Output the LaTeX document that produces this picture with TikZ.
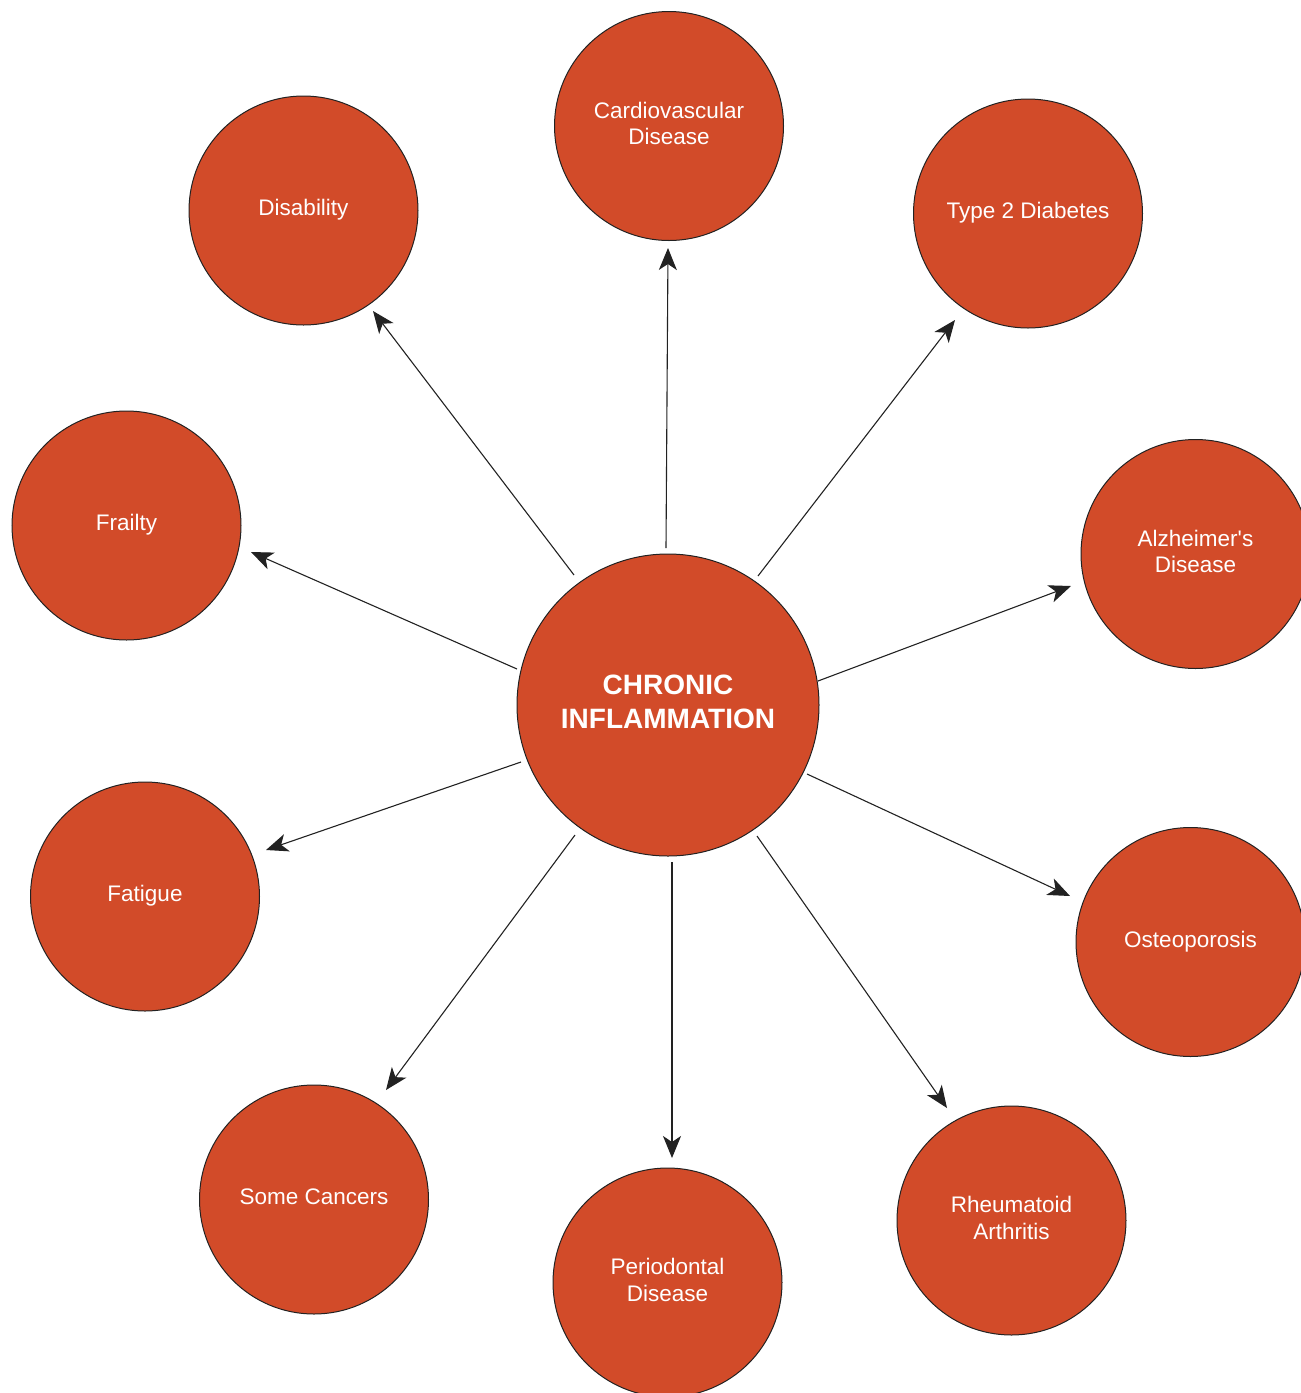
\documentclass[tikz,border=0pt]{standalone}
\usepackage{fontspec}
\setmainfont{Liberation Sans}
\usetikzlibrary{arrows.meta,calc}
\definecolor{infl}{RGB}{210,75,41}
\definecolor{edge}{RGB}{34,34,34}
\newcommand\lbl[2][3pt]{\raisebox{#1}{\begin{tabular}{@{}c@{}}#2\end{tabular}}}
\tikzset{
  disease/.style={circle,draw=edge,line width=1pt,fill=infl,minimum size=229pt,inner sep=0pt,
    text=white,font=\fontsize{22.5}{26.5}\selectfont},
  hub/.style={circle,draw=edge,line width=1pt,fill=infl,minimum size=302pt,inner sep=0pt,
    text=white,font=\fontsize{28}{34}\selectfont\bfseries},
  arr/.style={draw=edge,line width=1.1pt,-{Stealth[length=22pt,width=18pt,inset=6pt]}}
}
\begin{document}
\begin{tikzpicture}[x=1pt,y=-1pt]
\useasboundingbox (0,0) rectangle (1301,1393);
\clip (0,0) rectangle (1301,1393);
\node[hub] (c) at (668,705) {\lbl[4pt]{CHRONIC\\INFLAMMATION}};
\node[disease] (cardio) at (669,126) {\lbl{Cardiovascular\\Disease}};
\node[disease] (disab) at (303.5,210.5) {\lbl{Disability}};
\node[disease] (t2d) at (1028,213.5) {\lbl{Type 2 Diabetes}};
\node[disease] (frail) at (126.5,525.5) {\lbl{Frailty}};
\node[disease] (alz) at (1195.5,554) {\lbl{Alzheimer\textquotesingle s\\Disease}};
\node[disease] (fat) at (145,896.5) {\lbl{Fatigue}};
\node[disease] (osteo) at (1190.5,942) {\lbl{Osteoporosis}};
\node[disease] (canc) at (314,1199.5) {\lbl{Some Cancers}};
\node[disease] (perio) at (667.5,1282.5) {\lbl{Periodontal\\Disease}};
\node[disease] (rheum) at (1011.5,1220.5) {\lbl{Rheumatoid\\Arthritis}};
\draw[arr] ($(c)+(-2,-157)$) -- ($(cardio)+(-1,122)$);
\draw[arr] ($(c)+(-94,-130)$) -- ($(disab)+(69.5,100.5)$);
\draw[arr] ($(c)+(90,-129)$) -- ($(t2d)+(-73,106.5)$);
\draw[arr] ($(c)+(-151,-36)$) -- ($(frail)+(124.5,26.5)$);
\draw[arr] ($(c)+(150,-24)$) -- ($(alz)+(-124.5,32)$);
\draw[arr] ($(c)+(-147,57)$) -- ($(fat)+(121,-46.5)$);
\draw[arr] ($(c)+(139,69)$) -- ($(osteo)+(-120.5,-46)$);
\draw[arr] ($(c)+(-93,130)$) -- ($(canc)+(72,-109.5)$);
\draw[arr] ($(c)+(4,157)$) -- ($(perio)+(4.5,-124.5)$);
\draw[arr] ($(c)+(89,131)$) -- ($(rheum)+(-64.5,-112.5)$);
\end{tikzpicture}
\end{document}
